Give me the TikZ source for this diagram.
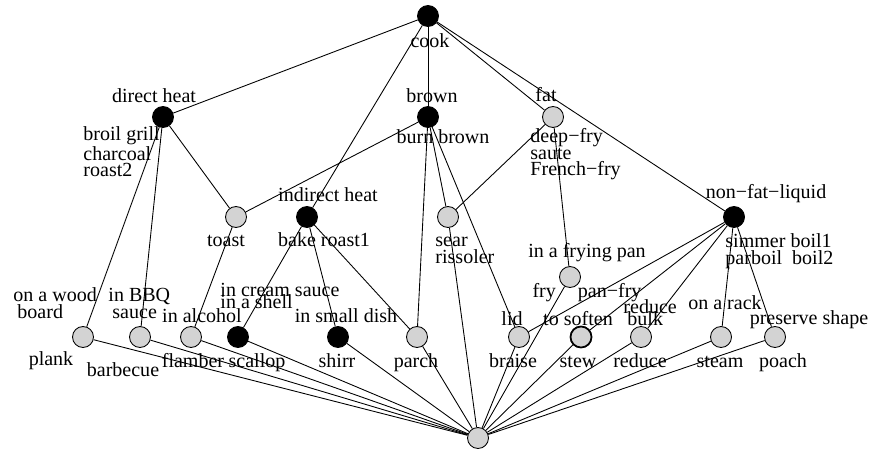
\documentclass[tikz,border=0pt]{standalone}
\usepackage{fontspec}
\setmainfont{Liberation Serif}
\definecolor{nodegray}{RGB}{211,211,211}
\begin{document}
\begin{tikzpicture}[x=0.02cm, y=-0.02cm, line width=0.5pt,
  every node/.style={font=\fontsize{11.4}{9.4}\selectfont, inner sep=0pt},
  blackc/.style={circle, draw, fill=black, minimum size=0.42cm},
  grayc/.style={circle, draw, fill=nodegray, minimum size=0.42cm}]
  \useasboundingbox (0,0) rectangle (872,449);
  \node[blackc] (cook) at (428,16) {};
  \node[blackc] (direct) at (163,117) {};
  \node[blackc] (brown) at (428,117) {};
  \node[grayc] (fat) at (553,117) {};
  \node[grayc] (toast) at (236,217) {};
  \node[blackc] (indirect) at (307,217) {};
  \node[grayc] (sear) at (448,217) {};
  \node[blackc] (liquid) at (734,217) {};
  \node[grayc] (fry) at (570,277) {};
  \foreach \n/\x/\s in {plank/83/grayc, barbecue/140/grayc, flamber/191/grayc,
    scallop/238/blackc, shirr/338/blackc, parch/417/grayc, braise/519/grayc,
    stew/581/grayc, reduce/641/grayc, steam/721/grayc, poach/775/grayc}
    \node[\s] (\n) at (\x,337) {};
  \node[grayc] (bottom) at (478,438) {};
  \node[grayc, line width=1pt] at (stew) {};

  \node[anchor=base] (t-cook) at (430,48) {cook};
  \node[anchor=base] (t-direct) at (154,103) {direct heat};
  \node[anchor=base] (t-brown) at (432,103) {brown};
  \node[anchor=base] (t-fat) at (546,102) {fat};
  \node[anchor=base] (t-burn) at (443,144) {burn brown};
  \node[anchor=base west, align=left] (t-deep) at (530,176) {deep−fry\\saute\\French−fry};
  \node[anchor=base west, align=left] (t-broil) at (83,177) {broil grill\\charcoal\\roast2};
  \node[anchor=base] (t-indirect) at (328,202) {indirect heat};
  \node[anchor=base] (t-liquid) at (766,199) {non−fat−liquid};
  \node[anchor=base] (t-toast) at (226,247) {toast};
  \node[anchor=base] (t-bake) at (324,247) {bake roast1};
  \node[anchor=base west, align=left] (t-sear) at (435,263) {sear\\rissoler};
  \node[anchor=base west, align=left] (t-simmer) at (725,264) {simmer boil1\\parboil\ \ boil2};
  \node[anchor=base] (t-pan) at (587,257) {in a frying pan};
  \node[anchor=base] (t-fry) at (587,297) {fry\hspace{1.1em}pan−fry};
  \node[anchor=base west, align=left] (t-wood) at (13,318) {on a wood\\\hspace{0.2em}board};
  \node[anchor=base west, align=left] (t-bbq) at (108,318) {in BBQ\\\hspace{0.2em}sauce};
  \node[anchor=base] (t-alcohol) at (202,322) {in alcohol};
  \node[anchor=base west, align=left] (t-cream) at (220,308) {in cream sauce\\[-3.1pt]in a shell};
  \node[anchor=base] (t-dish) at (346,322) {in small dish};
  \node[anchor=base] (t-lid) at (512,325) {lid};
  \node[anchor=base] (t-soften) at (578,325) {to soften};
  \node[anchor=base west, align=left] (t-bulk) at (623,325) {reduce\\[-2.6pt]\hspace{0.2em}bulk};
  \node[anchor=base] (t-rack) at (725,309) {on a rack};
  \node[anchor=base] (t-shape) at (809,324) {preserve shape};
  \node[anchor=base] (t-plank) at (51,365) {plank};
  \node[anchor=base] (t-barbecue) at (123,376) {barbecue};
  \foreach \n/\x in {flamber/193, scallop/257, shirr/337, parch/416, braise/513,
    stew/578, reduce/640, steam/720, poach/783}
    \node[anchor=base] (t-\n) at (\x,367) {\n};

  \foreach \a/\b in {cook/direct, cook/brown, cook/fat, cook/liquid, cook/indirect,
    direct/toast, direct/plank, direct/barbecue, brown/toast, brown/sear,
    brown/parch, brown/braise, fat/sear, fat/fry, indirect/scallop,
    indirect/shirr, indirect/parch, toast/flamber, liquid/braise, liquid/stew,
    liquid/reduce, liquid/steam, liquid/poach}
    \draw (\a) -- (\b);
  \foreach \n in {sear, fry, plank, barbecue, flamber, scallop, shirr, parch,
    braise, stew, reduce, steam, poach}
    \draw (\n) -- (bottom);
\end{tikzpicture}
\end{document}
